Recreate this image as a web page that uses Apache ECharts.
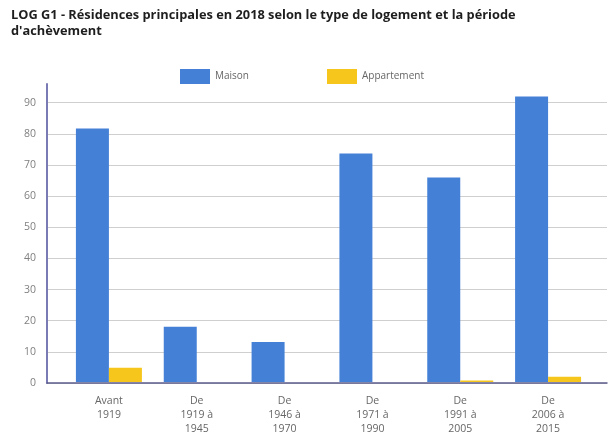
<!DOCTYPE html>
<html>
<head>
<meta charset="utf-8">
<script src="https://cdn.jsdelivr.net/npm/echarts@6/dist/echarts.min.js"></script>
<style>
  html, body { margin: 0; padding: 0; background: #fff; }
  #chart { width: 611px; height: 436px; }
</style>
</head>
<body>
<div id="chart"></div>
<script>
const titleText = "LOG G1 - Résidences principales en 2018 selon le type de logement et la période\nd'achèvement";
const categories = ["Avant\n1919", "De\n1919 à\n1945", "De\n1946 à\n1970", "De\n1971 à\n1990", "De\n1991 à\n2005", "De\n2006 à\n2015"];
const maison = [81.7, 17.8, 12.9, 73.6, 65.9, 92.0];
const appartement = [4.6, 0, 0, 0, 0.5, 1.7];
const seriesNames = ["Maison", "Appartement"];
const yMin = 0, yMax = 96, yStep = 10;

const chart = echarts.init(document.getElementById('chart'));
chart.setOption({
  animation: false,
  textStyle: { fontFamily: 'Open Sans' },
  title: {
    text: titleText,
    left: 6, top: 2,
    textStyle: { fontSize: 12.8, fontWeight: 'bold', color: '#1e1e1e', lineHeight: 16, fontFamily: 'Open Sans' }
  },
  legend: {
    data: seriesNames,
    top: 64, left: 175,
    itemWidth: 30, itemHeight: 15, itemGap: 78,
    icon: 'rect',
    textStyle: { fontSize: 10, color: '#666', fontFamily: 'Open Sans' }
  },
  grid: [
    { left: 47, right: 4, top: 84, bottom: 53 },
    { left: 65, right: 19, top: 84, bottom: 53 }
  ],
  xAxis: [
    {
      type: 'value', gridIndex: 0, min: 0, max: 1,
      axisLine: { show: true, onZero: false, lineStyle: { color: '#5c5c8c', width: 1.5 } },
      axisTick: { show: false }, axisLabel: { show: false }, splitLine: { show: false }
    },
    {
      type: 'category', gridIndex: 1, data: categories,
      axisLine: { show: false }, axisTick: { show: false },
      axisLabel: { margin: 12, fontSize: 10.5, lineHeight: 14, color: '#666', fontFamily: 'Open Sans' }
    }
  ],
  yAxis: [
    {
      type: 'value', gridIndex: 0, min: yMin, max: yMax, interval: yStep,
      axisLine: { show: true, lineStyle: { color: '#7a7ab4', width: 2 } },
      axisTick: { show: false },
      axisLabel: { showMaxLabel: false, margin: 11, fontSize: 10.5, color: '#808080', fontFamily: 'Open Sans' },
      splitLine: { showMaxLine: false, lineStyle: { color: '#cfcfcf', width: 1 } }
    },
    {
      type: 'value', gridIndex: 1, min: yMin, max: yMax, interval: yStep,
      show: false, splitLine: { show: false }
    }
  ],
  series: [
    {
      name: seriesNames[0], type: 'bar', xAxisIndex: 1, yAxisIndex: 1,
      data: maison, barWidth: 33, barGap: '0%',
      itemStyle: { color: '#4480d6' }
    },
    {
      name: seriesNames[1], type: 'bar', xAxisIndex: 1, yAxisIndex: 1,
      data: appartement, barWidth: 33, barGap: '0%',
      itemStyle: { color: '#f7c61c' }
    }
  ]
});
</script>
</body>
</html>
